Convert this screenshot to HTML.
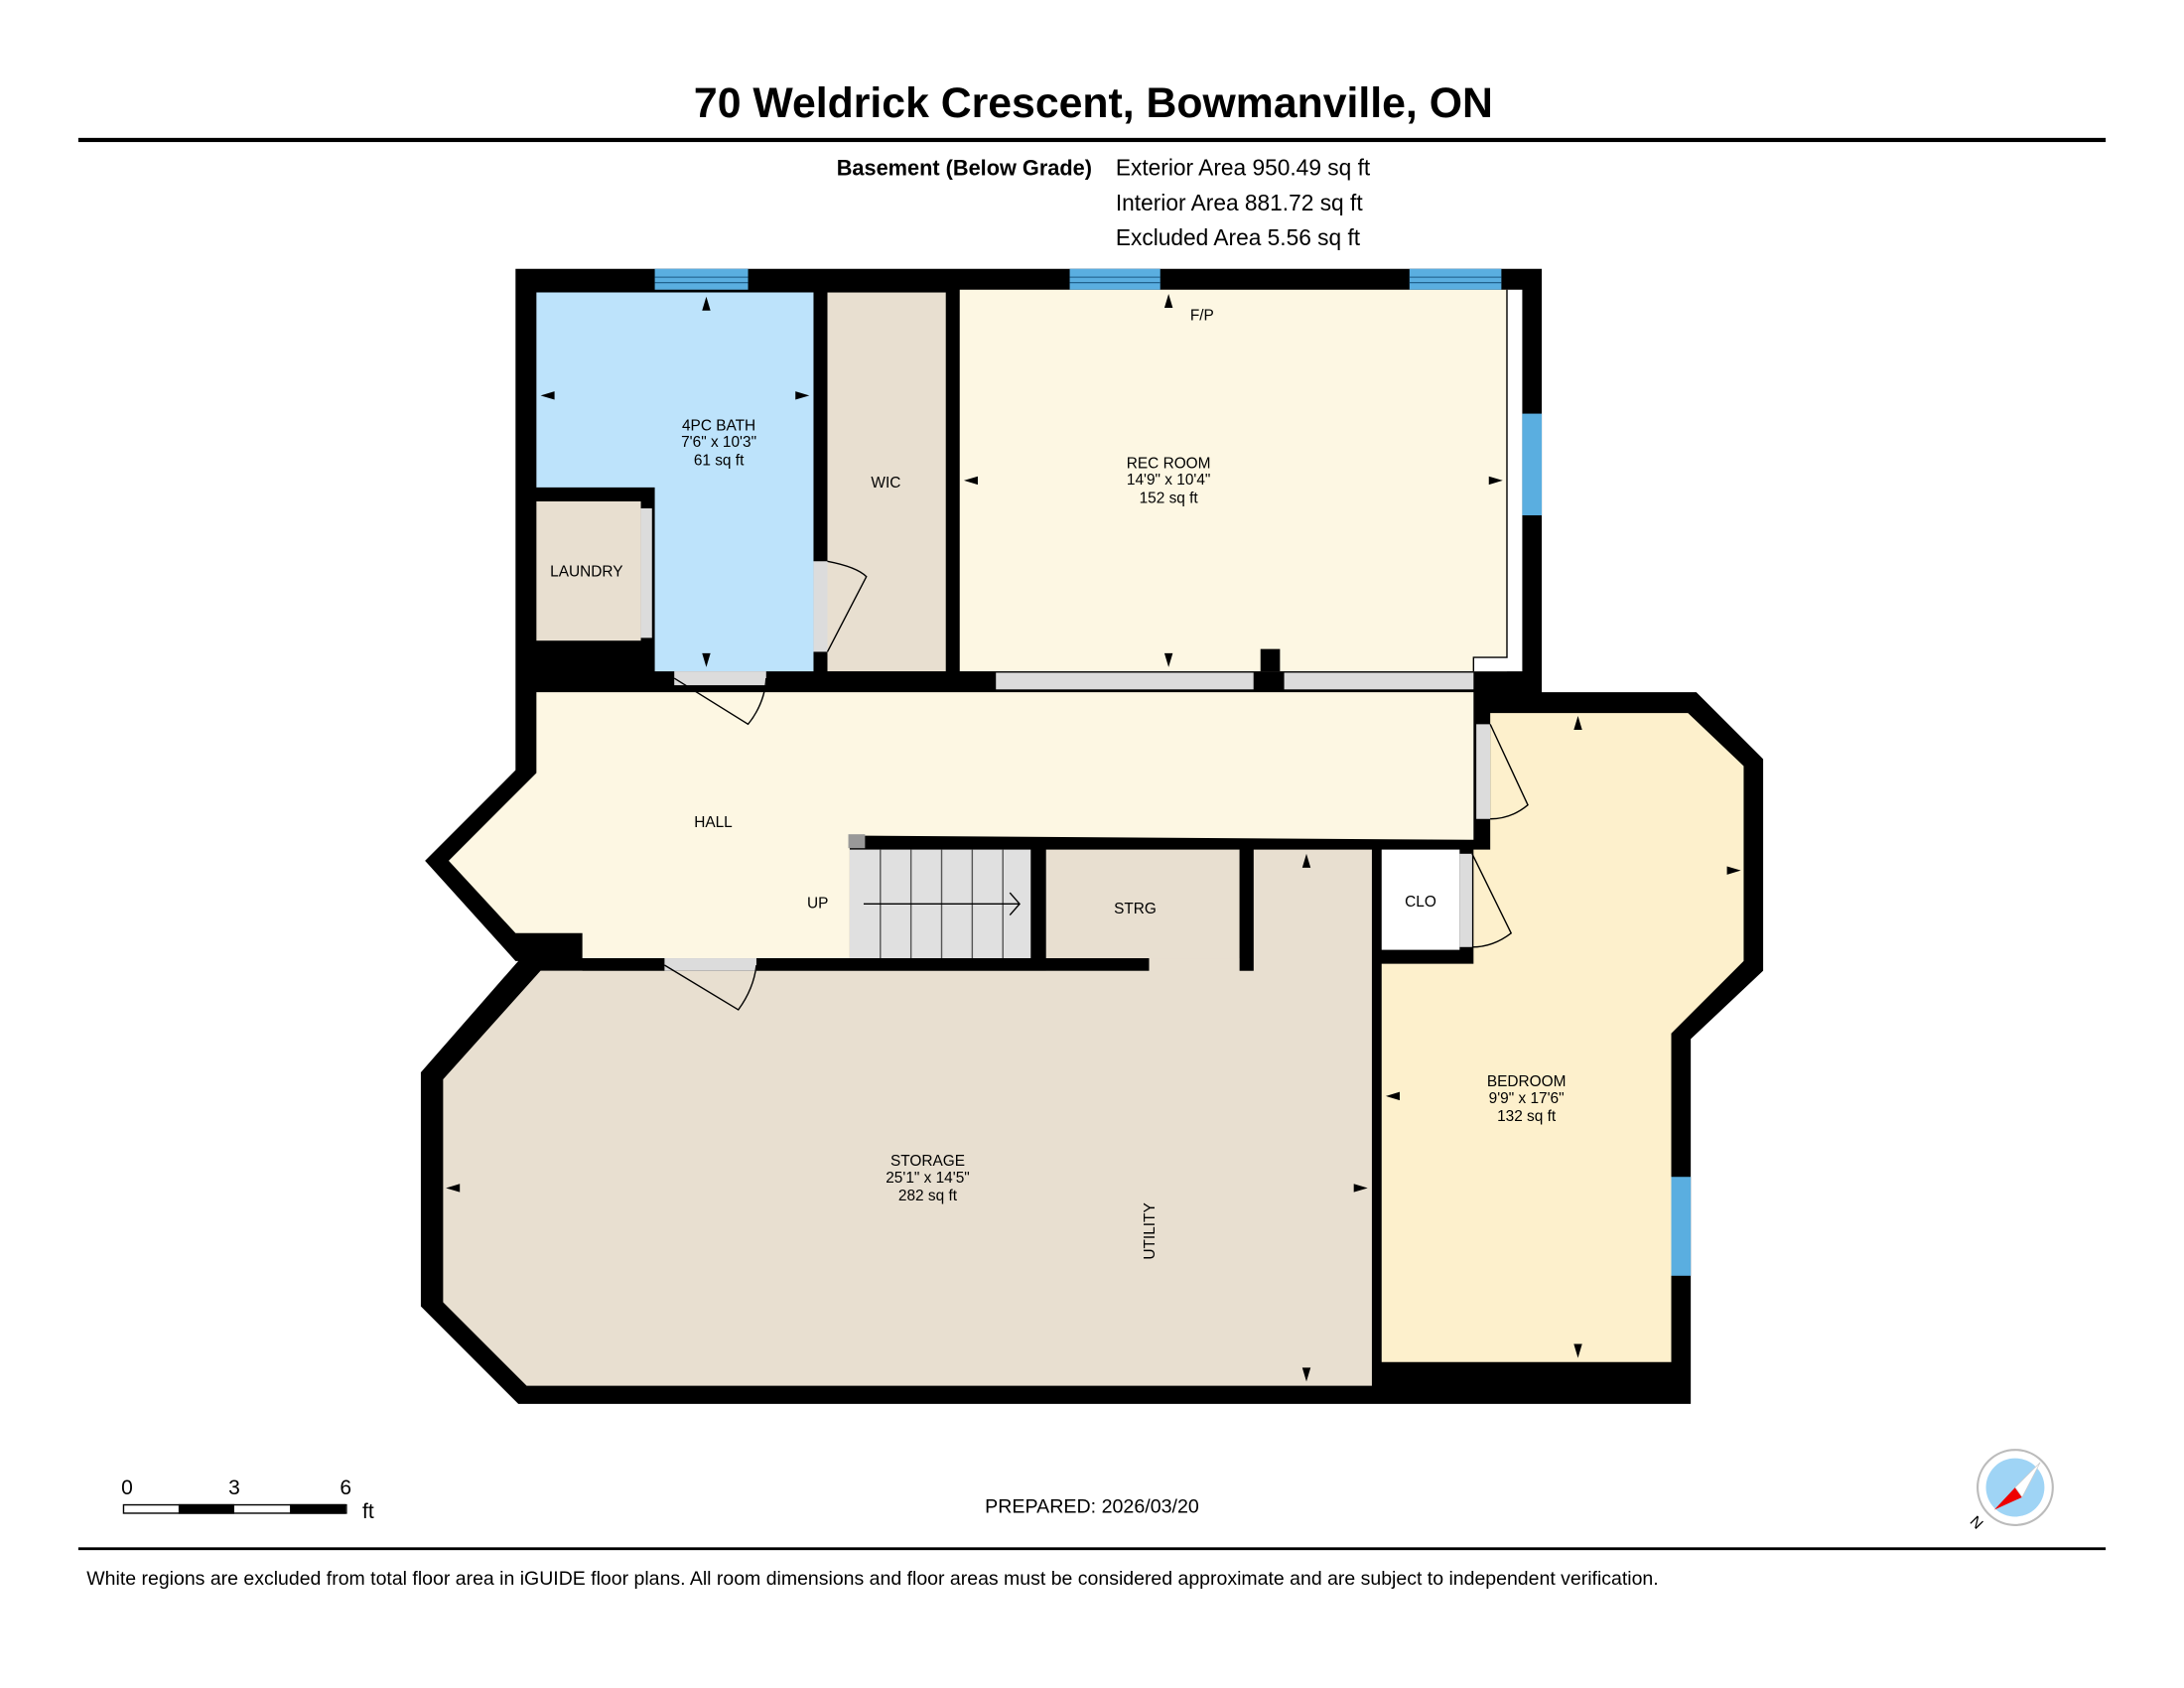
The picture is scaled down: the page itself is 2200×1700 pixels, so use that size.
<!DOCTYPE html>
<html><head><meta charset="utf-8"><style>
html,body{margin:0;padding:0;background:#fff;}
svg{display:block;}
text{font-family:"Liberation Sans",sans-serif;}
</style></head><body>
<svg width="2200" height="1700" viewBox="0 0 1568 1212" xmlns="http://www.w3.org/2000/svg">
<rect width="1568" height="1212" fill="#fff"/>
<text x="785" y="84" font-size="30.5" font-weight="bold" text-anchor="middle">70 Weldrick Crescent, Bowmanville, ON</text>
<rect x="56" y="99" width="1456" height="3" fill="#000"/>
<text x="784" y="126" font-size="15.5" font-weight="bold" text-anchor="end">Basement (Below Grade)</text>
<text x="801" y="126" font-size="16.2">Exterior Area 950.49 sq ft</text>
<text x="801" y="151" font-size="16.2">Interior Area 881.72 sq ft</text>
<text x="801" y="176" font-size="16.2">Excluded Area 5.56 sq ft</text>

<polygon fill="#000" points="370,193 1107,193 1107,497 1218,497 1266,545 1266,697 1214,746 1214,1008 372,1008 302,938 302,770 372,690 370,690 305,618 370,553"/>
<polygon fill="#bde3fb" points="385,210 584,210 584,482 470,482 470,350 385,350"/>
<rect x="385" y="360" width="75" height="100" fill="#e8dfd0"/>
<rect x="594" y="210" width="85" height="272" fill="#e8dfd0"/>
<rect x="689" y="208" width="393" height="274" fill="#fdf7e3"/>
<polygon fill="#fff" points="1082,208 1093,208 1093,482 1058,482 1058,472 1082,472"/>
<polyline points="1082,208 1082,472 1058,472 1058,482" fill="none" stroke="#000" stroke-width="1"/>
<rect x="905" y="466" width="14" height="16" fill="#000"/>
<polygon fill="#fdf7e3" points="385,497 1058,497 1058,603 622,600 610,600 610,688 418,688 418,670 370,670 322,618 385,555"/>
<rect x="610" y="610" width="130" height="78" fill="#e0e0e0"/>
<rect x="609" y="599" width="12" height="10" fill="#999"/>
<g stroke="#555" stroke-width="1">
<line x1="632" y1="610" x2="632" y2="688"/><line x1="654" y1="610" x2="654" y2="688"/><line x1="676" y1="610" x2="676" y2="688"/><line x1="698" y1="610" x2="698" y2="688"/><line x1="720" y1="610" x2="720" y2="688"/>
<line x1="620" y1="649" x2="732" y2="649" stroke="#000"/>
<polyline points="725,641 732,649 725,657" fill="none" stroke="#000"/>
</g>
<polygon fill="#e8dfd0" points="318,775 388,697 900,697 900,610 985,610 985,995 378,995 318,935"/>
<rect x="751" y="610" width="139" height="87" fill="#e8dfd0"/>
<rect x="825" y="688" width="65" height="10" fill="#e8dfd0"/>
<rect x="418" y="688" width="407" height="9" fill="#000"/>
<rect x="890" y="610" width="10" height="87" fill="#000"/>
<polygon fill="#fdf0cc" points="1070,512 1212,512 1252,550 1252,690 1200,742 1200,978 992,978 992,692 1058,692 1058,610 1070,610"/>
<rect x="992" y="610" width="56" height="72" fill="#fff"/>
<g fill="#5aaee0">
<rect x="470" y="193" width="67" height="15"/><rect x="768" y="193" width="65" height="15"/><rect x="1012" y="193" width="66" height="15"/>
<rect x="1093" y="297" width="14" height="73"/><rect x="1200" y="845" width="14" height="71"/>
</g>
<g stroke="#1a5a85" stroke-width="0.8">
<line x1="470" y1="199" x2="537" y2="199"/><line x1="470" y1="203" x2="537" y2="203"/>
<line x1="768" y1="199" x2="833" y2="199"/><line x1="768" y1="203" x2="833" y2="203"/>
<line x1="1012" y1="199" x2="1078" y2="199"/><line x1="1012" y1="203" x2="1078" y2="203"/>
</g>
<g fill="#dcdcdc">
<rect x="715" y="483" width="185" height="12"/><rect x="922" y="483" width="136" height="12"/>
<rect x="484" y="482" width="66" height="10"/><rect x="477" y="688" width="66" height="9"/>
<rect x="584" y="403" width="10" height="65"/><rect x="460" y="365" width="8" height="93"/>
<rect x="1060" y="520" width="10" height="68"/><rect x="1048" y="613" width="9" height="67"/>
</g>
<g fill="none" stroke="#000" stroke-width="1">
<path d="M484,487 L537,520 Q549,505 550,487"/>
<path d="M477,693 L530,725 Q541,710 543,693"/>
<path d="M594,403 Q615,407 622,414 L594,468"/>
<path d="M1070,520 L1097,578 Q1085,588 1070,588"/>
<path d="M1057,613 L1085,670 Q1072,680 1057,680"/>
</g>
<g fill="#000">
<polygon points="507,213 504,223 510,223"/><polygon points="507,479 504,469 510,469"/>
<polygon points="388,284 398,281 398,287"/><polygon points="581,284 571,281 571,287"/>
<polygon points="839,211 836,221 842,221"/><polygon points="839,479 836,469 842,469"/>
<polygon points="692,345 702,342 702,348"/><polygon points="1079,345 1069,342 1069,348"/>
<polygon points="1133,514 1130,524 1136,524"/><polygon points="1133,975 1130,965 1136,965"/>
<polygon points="995,787 1005,784 1005,790"/><polygon points="1250,625 1240,622 1240,628"/>
<polygon points="938,613 935,623 941,623"/><polygon points="938,992 935,982 941,982"/>
<polygon points="320,853 330,850 330,856"/><polygon points="982,853 972,850 972,856"/>
</g>
<g font-size="11" text-anchor="middle" fill="#000">
<text x="516" y="309">4PC BATH</text><text x="516" y="321">7'6" x 10'3"</text><text x="516" y="334">61 sq ft</text>
<text x="636" y="350">WIC</text><text x="421" y="414">LAUNDRY</text>
<text x="863" y="230">F/P</text>
<text x="839" y="336">REC ROOM</text><text x="839" y="348">14'9" x 10'4"</text><text x="839" y="361">152 sq ft</text>
<text x="512" y="594">HALL</text><text x="587" y="652">UP</text><text x="815" y="656">STRG</text>
<text x="1020" y="651">CLO</text>
<text x="1096" y="780">BEDROOM</text><text x="1096" y="792">9'9" x 17'6"</text><text x="1096" y="805">132 sq ft</text>
<text x="666" y="837">STORAGE</text><text x="666" y="849">25'1" x 14'5"</text><text x="666" y="862">282 sq ft</text>
<text x="826" y="884" transform="rotate(-90 826 884)" dominant-baseline="middle">UTILITY</text>
</g>
<text x="91" y="1073" font-size="15" text-anchor="middle">0</text>
<text x="168" y="1073" font-size="15" text-anchor="middle">3</text>
<text x="248" y="1073" font-size="15" text-anchor="middle">6</text>
<text x="260" y="1090" font-size="15">ft</text>
<rect x="88.5" y="1080.5" width="160" height="6" fill="#fff" stroke="#000"/>
<rect x="128" y="1080" width="40" height="7" fill="#000"/><rect x="208" y="1080" width="40" height="7" fill="#000"/>
<text x="784" y="1086" font-size="14" text-anchor="middle">PREPARED: 2026/03/20</text>
<circle cx="1447" cy="1068" r="27" fill="#fff" stroke="#bbb" stroke-width="1.5"/>
<circle cx="1447" cy="1068" r="21" fill="#9fd4f5"/>
<polygon points="1432,1084 1447,1068 1452,1075" fill="#e00"/>
<polygon points="1465,1050 1447,1068 1452,1075" fill="#fff" stroke="#ccc" stroke-width="0.5"/>
<text x="1422" y="1100" font-size="11" transform="rotate(-135 1422 1096)">N</text>
<rect x="56" y="1111" width="1456" height="2" fill="#000"/>
<text x="62" y="1138" font-size="13.9">White regions are excluded from total floor area in iGUIDE floor plans. All room dimensions and floor areas must be considered approximate and are subject to independent verification.</text>
</svg>
</body></html>
